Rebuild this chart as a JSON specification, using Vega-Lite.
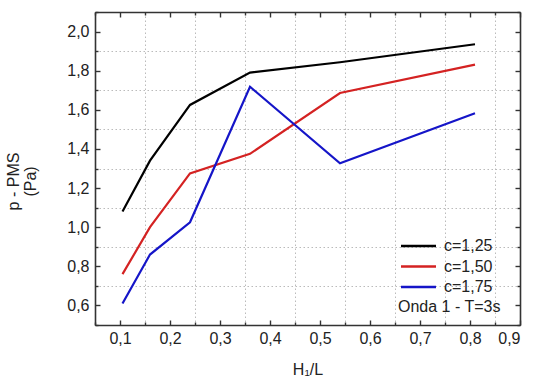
{
  "$schema": "https://vega.github.io/schema/vega-lite/v6.json",
  "width": 425,
  "height": 313,
  "autosize": {"type": "none"},
  "padding": {"left": 95, "top": 12, "right": 13, "bottom": 56},
  "background": "white",
  "config": {
    "font": "Liberation Sans",
    "view": {"stroke": null},
    "axis": {"labelFont": "Liberation Sans", "titleFont": "Liberation Sans", "labelColor": "#222", "titleColor": "#222", "titleFontWeight": "normal", "domainColor": "#333", "domainWidth": 1.6, "tickColor": "#333", "tickWidth": 1.4, "labelFontSize": 16, "titleFontSize": 16, "labelOverlap": false}
  },
  "data": {"values": [
    {"x": 0.105, "y": 1.08, "serie": "c=1,25"},
    {"x": 0.16, "y": 1.34, "serie": "c=1,25"},
    {"x": 0.24, "y": 1.625, "serie": "c=1,25"},
    {"x": 0.36, "y": 1.79, "serie": "c=1,25"},
    {"x": 0.54, "y": 1.843, "serie": "c=1,25"},
    {"x": 0.81, "y": 1.935, "serie": "c=1,25"},
    {"x": 0.105, "y": 0.76, "serie": "c=1,50"},
    {"x": 0.16, "y": 1.0, "serie": "c=1,50"},
    {"x": 0.24, "y": 1.275, "serie": "c=1,50"},
    {"x": 0.36, "y": 1.375, "serie": "c=1,50"},
    {"x": 0.54, "y": 1.686, "serie": "c=1,50"},
    {"x": 0.81, "y": 1.831, "serie": "c=1,50"},
    {"x": 0.105, "y": 0.61, "serie": "c=1,75"},
    {"x": 0.16, "y": 0.86, "serie": "c=1,75"},
    {"x": 0.24, "y": 1.025, "serie": "c=1,75"},
    {"x": 0.36, "y": 1.718, "serie": "c=1,75"},
    {"x": 0.54, "y": 1.327, "serie": "c=1,75"},
    {"x": 0.81, "y": 1.582, "serie": "c=1,75"}
  ]},
  "layer": [
    {
      "mark": {"type": "line", "strokeWidth": 2.2},
      "encoding": {
        "x": {"field": "x", "type": "quantitative",
          "scale": {"domain": [0.05, 0.9], "nice": false, "zero": false},
          "axis": {"orient": "bottom", "title": "H₁/L", "titlePadding": 13,
            "values": [0.05,0.1,0.15,0.2,0.25,0.3,0.35,0.4,0.45,0.5,0.55,0.6,0.65,0.7,0.75,0.8,0.85,0.9],
            "labelExpr": "round(datum.value*20)%2==0 ? replace(format(datum.value,'.1f'),'.',',') : ''",
            "tickSize": {"condition": {"test": "round(datum.value*20)%2==0", "value": -5}, "value": -3},
            "labelPadding": 10,
            "grid": true, "gridColor": "#bbb", "gridDash": [1.5, 2.5], "gridWidth": 1,
            "gridOpacity": {"condition": {"test": "round(datum.value*20)%2==0", "value": 0}, "value": 1}}},
        "y": {"field": "y", "type": "quantitative",
          "scale": {"domain": [0.5, 2.1], "nice": false, "zero": false},
          "axis": {"orient": "left", "title": ["p - PMS", "(Pa)"], "titleLineHeight": 17,
            "titleAngle": -90, "titleX": -82, "titleY": 169, "titleAlign": "center", "titleBaseline": "middle",
            "values": [0.5,0.6,0.7,0.8,0.9,1.0,1.1,1.2,1.3,1.4,1.5,1.6,1.7,1.8,1.9,2.0,2.1],
            "labelExpr": "round(datum.value*10)%2==0 ? replace(format(datum.value,'.1f'),'.',',') : ''",
            "tickSize": {"condition": {"test": "round(datum.value*10)%2==0", "value": -5}, "value": -3},
            "labelPadding": 11,
            "grid": true, "gridColor": "#bbb", "gridDash": [1.5, 2.5], "gridWidth": 1,
            "gridOpacity": {"condition": {"test": "round(datum.value*10)%2==0", "value": 0}, "value": 1}}},
        "color": {"field": "serie", "type": "nominal",
          "scale": {"domain": ["c=1,25", "c=1,50", "c=1,75"], "range": ["#000000", "#d42222", "#1515c8"]},
          "legend": {"orient": "none", "legendX": 303, "legendY": 226, "title": " Onda 1 - T=3s",
            "titleOrient": "bottom", "titleAnchor": "start", "titleFontSize": 16, "titleFontWeight": "normal", "titleColor": "#222", "titlePadding": 4,
            "labelFontSize": 16, "labelColor": "#222", "symbolType": "M-1,0H6", "symbolSize": 100, "symbolStrokeWidth": 2.5,
            "rowPadding": 4.5, "labelOffset": 30, "padding": 0}}
      }
    },
    {
      "mark": {"type": "line", "opacity": 0},
      "encoding": {
        "x": {"field": "x", "type": "quantitative",
          "axis": {"orient": "top", "title": null, "labels": false, "grid": false,
            "values": [0.05,0.1,0.15,0.2,0.25,0.3,0.35,0.4,0.45,0.5,0.55,0.6,0.65,0.7,0.75,0.8,0.85,0.9],
            "tickSize": {"condition": {"test": "round(datum.value*20)%2==0", "value": -5}, "value": -3}}},
        "y": {"field": "y", "type": "quantitative",
          "axis": {"orient": "right", "title": null, "labels": false, "grid": false,
            "values": [0.5,0.6,0.7,0.8,0.9,1.0,1.1,1.2,1.3,1.4,1.5,1.6,1.7,1.8,1.9,2.0,2.1],
            "tickSize": {"condition": {"test": "round(datum.value*10)%2==0", "value": -5}, "value": -3}}},
        "detail": {"field": "serie"}
      }
    }
  ],
  "resolve": {"axis": {"x": "independent", "y": "independent"}}
}
